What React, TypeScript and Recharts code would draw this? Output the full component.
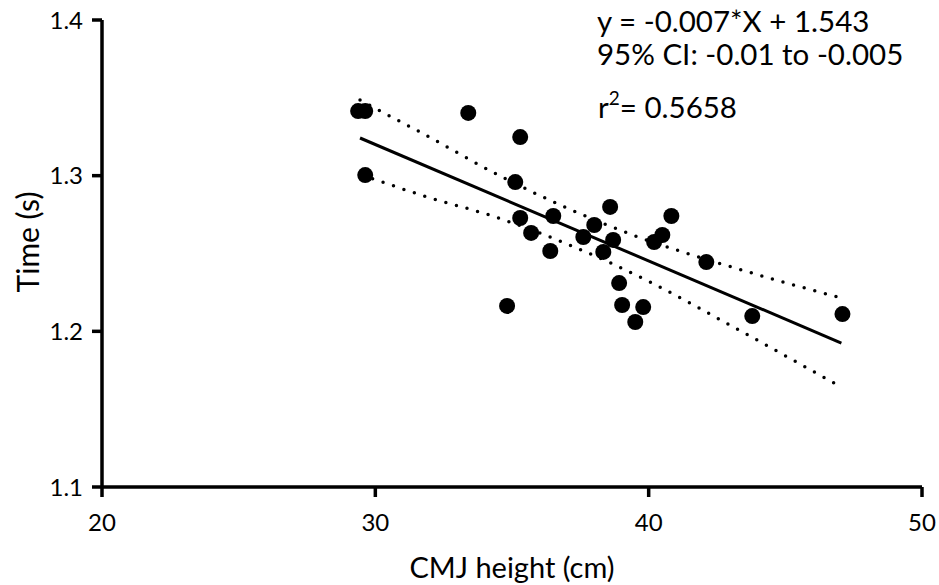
import React from 'react';
import { ScatterChart, Scatter, XAxis, YAxis, Label, Customized } from 'recharts';

// CMJ height (cm) vs time (s)
const cmjHeight = [29.37, 29.63, 29.63, 33.4, 35.3, 35.12, 35.3, 35.7, 36.51, 36.4, 34.82, 37.61, 38.01, 38.59, 38.7, 38.34, 38.92, 39.03, 39.8, 39.51, 40.2, 40.5, 40.83, 42.11, 43.79, 47.09];
const timeS = [1.3415, 1.3415, 1.3004, 1.3403, 1.3248, 1.2959, 1.2728, 1.2632, 1.2741, 1.2516, 1.2163, 1.2606, 1.2683, 1.2799, 1.2587, 1.251, 1.231, 1.2169, 1.2156, 1.206, 1.2574, 1.2619, 1.2741, 1.2445, 1.2098, 1.2111];

// regression line ends
const fitX = [29.44, 47.05];
const fitY = [1.3242, 1.1925];

// 95% confidence band
const upperX = [29.44, 30.18, 31.64, 34.64, 39.62, 42.44, 46.9];
const upperY = [1.3486, 1.3415, 1.328, 1.2991, 1.2606, 1.2445, 1.2221];
const lowerX = [29.52, 31.9, 34.28, 37.02, 40.13, 43.1, 46.8];
const lowerY = [1.3004, 1.2863, 1.2741, 1.2561, 1.231, 1.2028, 1.1666];

const xTicks = [20, 30, 40, 50];
const yTicks = [1.1, 1.2, 1.3, 1.4];

const zip = (xs: number[], ys: number[]) => xs.map((x, i) => ({ x, y: ys[i] }));

const points = zip(cmjHeight, timeS);
const fit = zip(fitX, fitY);
const upper = zip(upperX, upperY);
const lower = zip(lowerX, lowerY);

const FONT = 'Lato, "Open Sans", sans-serif';

const Dot = (props: any) => <circle cx={props.cx} cy={props.cy} r={8} fill="#000" />;
const NoDot = () => <g />;

const Annotation = () => (
  <g fontFamily={FONT} fontSize={29.5} fill="#000">
    <text x={597} y={32}>y = -0.007*X + 1.543</text>
    <text x={597} y={65}>95% CI: -0.01 to -0.005</text>
    <text x={598} y={118}>
      r<tspan dy={-13} fontSize={19}>2</tspan>
      <tspan dy={13}>= 0.5658</tspan>
    </text>
  </g>
);

const App: React.FC = () => {
  const axisStroke = { stroke: '#000', strokeWidth: 3.5 };
  return (
    <div style={{ position: 'absolute', left: 0, top: 0, background: '#fff' }}>
      <ScatterChart width={939} height={585} margin={{ top: 20, right: 17, bottom: 0, left: 0 }}>
        <XAxis
          type="number"
          dataKey="x"
          domain={[20, 50]}
          ticks={xTicks}
          height={98}
          tickSize={10}
          tickMargin={17}
          axisLine={axisStroke}
          tickLine={axisStroke}
          tick={{ fill: '#000', fontSize: 24, fontFamily: FONT }}
        >
          <Label
            value="CMJ height (cm)"
            position="insideBottom"
            offset={7}
            style={{ fill: '#000', fontSize: 29, fontFamily: FONT }}
          />
        </XAxis>
        <YAxis
          type="number"
          dataKey="y"
          domain={[1.1, 1.4]}
          ticks={yTicks}
          width={102}
          tickSize={10}
          tickMargin={9}
          axisLine={axisStroke}
          tickLine={axisStroke}
          tickFormatter={(v: number) => v.toFixed(1)}
          tick={{ fill: '#000', fontSize: 24, fontFamily: FONT }}
        >
          <Label
            content={() => (
              <text
                x={27}
                y={242}
                transform="rotate(-90 27 242)"
                textAnchor="middle"
                dominantBaseline="central"
                fill="#000"
                fontSize={30}
                fontFamily={FONT}
              >
                Time (s)
              </text>
            )}
          />
        </YAxis>
        <Scatter
          data={upper}
          shape={NoDot}
          line={{ stroke: '#000', strokeWidth: 3.5, strokeDasharray: '0 11', strokeLinecap: 'round' }}
          lineJointType="monotoneX"
          isAnimationActive={false}
        />
        <Scatter
          data={lower}
          shape={NoDot}
          line={{ stroke: '#000', strokeWidth: 3.5, strokeDasharray: '0 11', strokeLinecap: 'round' }}
          lineJointType="monotoneX"
          isAnimationActive={false}
        />
        <Scatter
          data={fit}
          shape={NoDot}
          line={{ stroke: '#000', strokeWidth: 3 }}
          isAnimationActive={false}
        />
        <Scatter data={points} shape={Dot} fill="#000" isAnimationActive={false} />
        <Customized component={Annotation} />
      </ScatterChart>
    </div>
  );
};

export default App;
